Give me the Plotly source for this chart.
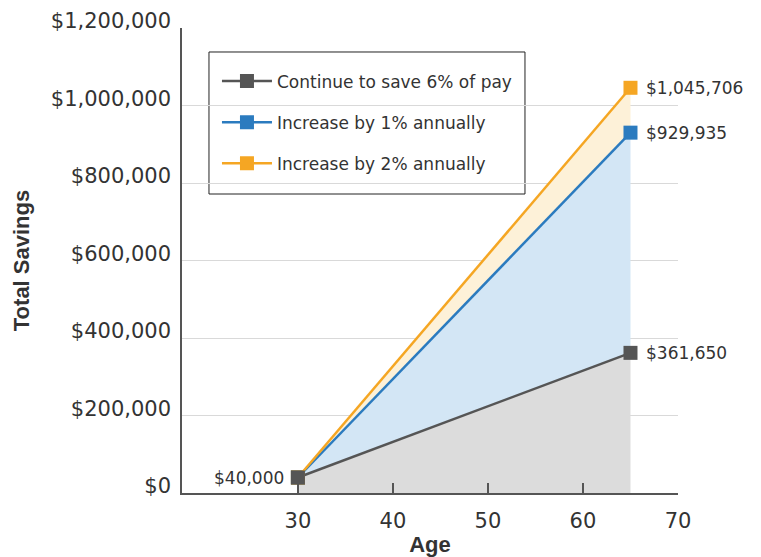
import plotly.graph_objects as go

# Savings projections by age
ages = [30, 65]
save_6pct = [40000, 361650]
increase_1pct = [40000, 929935]
increase_2pct = [40000, 1045706]

series_names = ["Continue to save 6% of pay", "Increase by 1% annually", "Increase by 2% annually"]
line_colors = ["#555555", "#2b7bbf", "#f5a623"]
fill_colors = ["#dcdcdc", "#d3e6f5", "#fdf1d8"]

y_ticks = [0, 200000, 400000, 600000, 800000, 1000000, 1200000]
y_tick_labels = ["$0", "$200,000", "$400,000", "$600,000", "$800,000", "$1,000,000", "$1,200,000"]
x_ticks = [30, 40, 50, 60, 70]

FONT = "DejaVu Sans"
BOLD = "Liberation Sans"
TEXT = "#333333"
AXIS = "#555555"

fig = go.Figure()

all_series = [save_6pct, increase_1pct, increase_2pct]

# shaded bands between the projections
for i, vals in enumerate(all_series):
    fig.add_trace(go.Scatter(
        x=ages, y=vals, mode="lines", line=dict(width=0),
        fill="tozeroy" if i == 0 else "tonexty", fillcolor=fill_colors[i],
        showlegend=False, hoverinfo="skip",
    ))

# projection lines with end markers
for i, (name, vals) in enumerate(zip(series_names, all_series)):
    fig.add_trace(go.Scatter(
        x=ages, y=vals, name=name,
        mode="lines+markers",
        line=dict(color=line_colors[i], width=2.5),
        marker=dict(symbol="square", size=14, color=line_colors[i]),
        legendgroup=f"g{i}",
    ))

# starting balance marker on top of the overlapping start points
fig.add_trace(go.Scatter(
    x=[ages[0]], y=[save_6pct[0]], mode="markers", showlegend=False,
    marker=dict(symbol="square", size=14, color=line_colors[0]),
    hoverinfo="skip",
))

def money(v):
    return f"${v:,.0f}"

annotations = []
for vals in all_series:
    annotations.append(dict(
        x=ages[-1], y=vals[-1], xref="x", yref="y", text=money(vals[-1]),
        showarrow=False, xanchor="left", yanchor="middle", xshift=14,
        font=dict(family=FONT, size=17, color=TEXT),
    ))
annotations.append(dict(
    x=ages[0], y=save_6pct[0], xref="x", yref="y", text=money(save_6pct[0]),
    showarrow=False, xanchor="right", yanchor="middle", xshift=-12,
    font=dict(family=FONT, size=17, color=TEXT),
))

fig.update_layout(
    width=761, height=557,
    margin=dict(l=182, r=83, t=28, b=64),
    paper_bgcolor="white", plot_bgcolor="white",
    font=dict(family=FONT, color=TEXT),
    showlegend=True,
    legend=dict(
        x=0.0705, y=0.9235, xanchor="left", yanchor="top",
        bgcolor="rgba(0,0,0,0)", borderwidth=0,
        font=dict(family=FONT, size=17, color=TEXT),
        tracegroupgap=16, traceorder="grouped", itemwidth=50,
    ),
    shapes=[dict(
        type="rect", xref="paper", yref="paper",
        x0=0.0544, x1=0.6915, y0=0.643, y1=0.9484,
        line=dict(color="#222222", width=1), fillcolor="white", layer="between",
    )],
    annotations=annotations,
)

fig.update_xaxes(
    range=[17.8, 70], tickvals=x_ticks, automargin=False,
    ticks="inside", ticklen=10, tickwidth=1.5, tickcolor=AXIS,
    showline=True, linecolor=AXIS, linewidth=2,
    showgrid=False, zeroline=False, ticklabelstandoff=8,
    tickfont=dict(family=FONT, size=21, color=TEXT),
    title=dict(text="<b>Age</b>", font=dict(family=BOLD, size=22, color=TEXT), standoff=4),
)
fig.update_yaxes(
    range=[0, 1200000], tickvals=y_ticks, ticktext=y_tick_labels, automargin=False,
    showline=True, linecolor=AXIS, linewidth=1.5,
    showgrid=True, gridcolor="#d9d9d9", gridwidth=1,
    zeroline=False, ticks="", ticklabelstandoff=5, ticklabelshift=-7,
    tickfont=dict(family=FONT, size=21, color=TEXT),
    title=dict(text="<b>Total Savings</b>", font=dict(family=BOLD, size=22, color=TEXT), standoff=15),
)

fig.write_html("out.html")
